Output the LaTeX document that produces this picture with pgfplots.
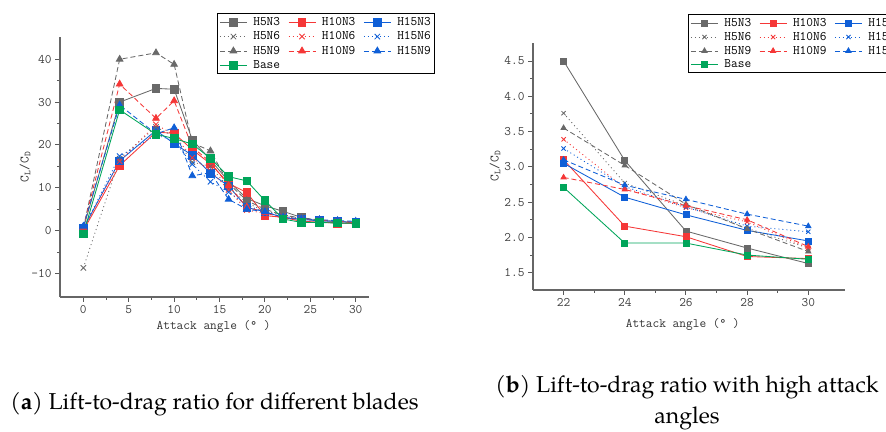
\documentclass[border=0pt]{standalone}
\usepackage{fontspec}
\setmainfont{texgyrepagella}[Extension=.otf,UprightFont=*-regular,BoldFont=*-bold,ItalicFont=*-italic,BoldItalicFont=*-bolditalic]
\usepackage{pgfplots}
\usepackage{pgfplotstable}
\pgfplotsset{compat=1.18}

\definecolor{cgray}{RGB}{105,105,105}
\definecolor{cred}{RGB}{245,55,55}
\definecolor{cblue}{RGB}{15,95,215}
\definecolor{cgreen}{RGB}{0,165,90}

\newcommand{\chartfont}{\ttfamily\fontsize{13}{15}\selectfont}

\pgfplotstableread{
x  H5N3 H10N3 H15N3 H5N6 H10N6 H15N6 H5N9 H10N9 H15N9 Base
0   0.5  0.0  0.5  -8.7  0.3  0.5  0.5  0.8  1.0  -0.8
4   30.0 15.2 16.3 16.8 16.2 17.4 40.0 34.2 29.3 28.2
8   33.2 23.0 23.4 24.2 24.8 22.3 41.5 26.2 22.6 22.5
10  33.0 22.7 20.3 22.0 22.3 21.0 38.8 30.3 24.0 21.5
12  21.2 18.9 17.6 16.0 17.0 15.5 20.5 19.5 12.8 20.2
14  16.5 15.6 13.4 15.0 14.0 11.4 18.6 16.0 13.5 16.9
16  11.5 11.0 10.4 10.0 9.5  9.0  11.0 10.5 7.3  12.6
18  7.5  8.9  5.4  6.5  4.8  6.0  7.0  5.5  5.0  11.6
20  5.8  3.5  4.4  4.5  4.0  4.2  5.0  4.2  4.4  7.0
22  4.50 3.10 3.05 3.76 3.39 3.26 3.55 2.85 3.10 2.71
24  3.09 2.16 2.57 2.77 2.70 2.72 3.02 2.68 2.74 1.92
26  2.09 2.01 2.32 2.45 2.42 2.43 2.47 2.45 2.54 1.92
28  1.85 1.73 2.10 2.13 2.22 2.16 2.12 2.25 2.33 1.75
30  1.63 1.70 1.95 1.85 1.85 2.08 1.80 1.87 2.16 1.69
}\ldtable

\pgfplotsset{
  /pgf/number format/assume math mode=true,
  ldaxis/.style={
    scale only axis,
    axis lines*=left,
    axis line style={line width=1.6pt, draw=black!60, -},
    tick align=outside,
    tick style={line width=0.9pt, draw=black!65},
    major tick length=5pt, minor tick length=3pt,
    tick label style={font=\chartfont, text=black!75},
    label style={font=\chartfont, text=black!80},
    legend style={draw=black, line width=1pt, fill=white, font=\chartfont,
      inner xsep=2pt, inner ysep=1.5pt, row sep=0.8pt,
      /tikz/every odd column/.append style={column sep=4pt},
      /tikz/every even column/.append style={column sep=6pt}},
    legend columns=3,
    legend cell align=left,
    legend image code/.code={\draw[mark repeat=2,mark phase=2] plot coordinates {(0pt,0pt) (13.5pt,0pt) (27pt,0pt)};},
    every axis plot/.append style={line width=0.85pt},
  },
  s3/.style={solid, mark=square*, mark options={solid}},
  s6/.style={dash pattern=on 1pt off 3pt, mark=x, mark options={solid}},
  s9/.style={dash pattern=on 5pt off 3pt, mark=triangle*, mark options={solid}},
}

\begin{document}
\begin{tikzpicture}[x=1pt,y=1pt]
\begin{axis}[ldaxis, at={(60pt,134pt)}, anchor=south west, width=309pt, height=260pt,
  xmin=-2.57, xmax=31.46, ymin=-15.5, ymax=45.2,
  xtick={0,5,...,30}, ytick={-10,0,...,40}, minor x tick num=1, minor y tick num=1,
  xlabel={Attack angle (° )}, ylabel={C\textsubscript{L}/C\textsubscript{D}},
  xlabel style={at={(axis description cs:0.497,-0.112)}, anchor=center},
  ylabel style={at={(axis description cs:-0.113,0.5)}, anchor=center},
  legend style={at={(0.508,1.091)}, anchor=north west},
  mark size=3.8pt]
\addplot[cgray, s3] table[x=x,y=H5N3]{\ldtable};
\addplot[cred, s3] table[x=x,y=H10N3]{\ldtable};
\addplot[cblue, s3] table[x=x,y=H15N3]{\ldtable};
\addplot[cgray, s6] table[x=x,y=H5N6]{\ldtable};
\addplot[cred, s6] table[x=x,y=H10N6]{\ldtable};
\addplot[cblue, s6] table[x=x,y=H15N6]{\ldtable};
\addplot[cgray, s9] table[x=x,y=H5N9]{\ldtable};
\addplot[cred, s9] table[x=x,y=H10N9]{\ldtable};
\addplot[cblue, s9] table[x=x,y=H15N9]{\ldtable};
\addplot[cgreen, s3] table[x=x,y=Base]{\ldtable};
\legend{H5N3,H10N3,H15N3,H5N6,H10N6,H15N6,H5N9,H10N9,H15N9,Base}
\end{axis}

\begin{axis}[ldaxis, at={(533pt,141pt)}, anchor=south west, width=312pt, height=247pt,
  xmin=21.0, xmax=31.2, ymin=1.255, ymax=4.755,
  restrict x to domain=21.5:30.5,
  xtick={22,24,...,30}, ytick={1.5,2,...,4.5}, minor x tick num=1, minor y tick num=1,
  yticklabel style={/pgf/number format/.cd, fixed, fixed zerofill, precision=1},
  xlabel={Attack angle (° )}, ylabel={C\textsubscript{L}/C\textsubscript{D}},
  xlabel style={at={(axis description cs:0.48,-0.138)}, anchor=center},
  ylabel style={at={(axis description cs:-0.122,0.502)}, anchor=center},
  legend style={at={(0.497,1.116)}, anchor=north west, row sep=0.3pt},
  mark size=3pt]
\addplot[cgray, s3] table[x=x,y=H5N3]{\ldtable};
\addplot[cred, s3] table[x=x,y=H10N3]{\ldtable};
\addplot[cblue, s3] table[x=x,y=H15N3]{\ldtable};
\addplot[cgray, s6] table[x=x,y=H5N6]{\ldtable};
\addplot[cred, s6] table[x=x,y=H10N6]{\ldtable};
\addplot[cblue, s6] table[x=x,y=H15N6]{\ldtable};
\addplot[cgray, s9] table[x=x,y=H5N9]{\ldtable};
\addplot[cred, s9] table[x=x,y=H10N9]{\ldtable};
\addplot[cblue, s9] table[x=x,y=H15N9]{\ldtable};
\addplot[cgreen, s3] table[x=x,y=Base]{\ldtable};
\legend{H5N3,H10N3,H15N3,H5N6,H10N6,H15N6,H5N9,H10N9,H15N9,Base}
\end{axis}

\node[font=\fontsize{23}{31}\selectfont, anchor=center] at (214.5pt,27pt) {(\textbf{a}) Lift-to-drag ratio for different blades};
\node[font=\fontsize{23}{31}\selectfont, anchor=center, align=center] at (687pt,28.5pt) {(\textbf{b}) Lift-to-drag ratio with high attack\\angles};
\pgfresetboundingbox
\useasboundingbox (0pt,0pt) rectangle (886pt,431pt);
\end{tikzpicture}
\end{document}
